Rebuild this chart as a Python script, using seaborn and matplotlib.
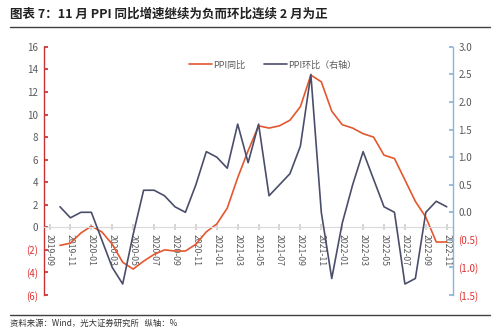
import numpy as np
import pandas as pd
import matplotlib
matplotlib.use("Agg")
import matplotlib.pyplot as plt
from matplotlib.lines import Line2D
import seaborn as sns

sns.set_theme(style="white")
plt.rcParams['font.family'] = ['Noto Sans CJK SC', 'DejaVu Sans']
plt.rcParams['axes.unicode_minus'] = False

months = ["2019-10", "2019-11", "2019-12", "2020-01", "2020-02", "2020-03", "2020-04",
          "2020-05", "2020-06", "2020-07", "2020-08", "2020-09", "2020-10", "2020-11",
          "2020-12", "2021-01", "2021-02", "2021-03", "2021-04", "2021-05", "2021-06",
          "2021-07", "2021-08", "2021-09", "2021-10", "2021-11", "2021-12", "2022-01",
          "2022-02", "2022-03", "2022-04", "2022-05", "2022-06", "2022-07", "2022-08",
          "2022-09", "2022-10", "2022-11"]
ppi_yoy = [-1.6, -1.4, -0.5, 0.1, -0.4, -1.5, -3.1, -3.7, -3.0, -2.4, -2.0, -2.1, -2.1,
           -1.5, -0.4, 0.3, 1.7, 4.4, 6.8, 9.0, 8.8, 9.0, 9.5, 10.7, 13.5, 12.9, 10.3,
           9.1, 8.8, 8.3, 8.0, 6.4, 6.1, 4.2, 2.3, 0.9, -1.3, -1.3]
ppi_mom = [0.1, -0.1, 0.0, 0.0, -0.5, -1.0, -1.3, -0.4, 0.4, 0.4, 0.3, 0.1, 0.0, 0.5,
           1.1, 1.0, 0.8, 1.6, 0.9, 1.6, 0.3, 0.5, 0.7, 1.2, 2.5, 0.0, -1.2, -0.2, 0.5,
           1.1, 0.6, 0.1, 0.0, -1.3, -1.2, 0.0, 0.2, 0.1]
tick_labels = ["2019-09", "2019-11", "2020-01", "2020-03", "2020-05", "2020-07", "2020-09",
               "2020-11", "2021-01", "2021-03", "2021-05", "2021-07", "2021-09", "2021-11",
               "2022-01", "2022-03", "2022-05", "2022-07", "2022-09", "2022-11"]
left_ticks = [-6, -4, -2, 0, 2, 4, 6, 8, 10, 12, 14, 16]
right_ticks = [-1.5, -1.0, -0.5, 0.0, 0.5, 1.0, 1.5, 2.0, 2.5, 3.0]

RED = "#E4572E"
GREY = "#4B4E6A"
TXT = "#595959"
NEG = "#E03030"

df = pd.DataFrame({"i": np.arange(len(months)), "yoy": ppi_yoy, "mom": ppi_mom})

fig = plt.figure(figsize=(5.0, 3.3), dpi=100)
ax = fig.add_axes([0.088, 0.106, 0.818, 0.752])
ax2 = ax.twinx()

sns.lineplot(data=df, x="i", y="yoy", ax=ax, color=RED, lw=1.2)
sns.lineplot(data=df, x="i", y="mom", ax=ax2, color=GREY, lw=1.2)

ax.set_xlim(-1.53, 37.6)
ax.set_ylim(-6, 16)
ax2.set_ylim(-1.5, 3.0)
ax.set_xlabel("")
ax.set_ylabel("")
ax2.set_ylabel("")

# x axis at zero
tick_pos = [months.index(l) if l in months else -1 for l in tick_labels]
ax.spines['bottom'].set_position(('data', 0))
ax.spines['bottom'].set_color("#D9D9D9")
ax.spines['bottom'].set_linewidth(0.8)
ax.set_xticks(tick_pos)
ax.set_xticklabels(tick_labels)
ax.tick_params(axis='x', direction='inout', length=4, color="#D0D0D0", pad=3,
               labelrotation=-90, labelsize=6.3, labelcolor=TXT, bottom=True)

# left axis
ax.set_yticks(left_ticks)
ax.set_yticklabels([f"({abs(v)})" if v < 0 else f"{v}" for v in left_ticks])
ax.tick_params(axis='y', direction='in', length=3, color="#C83232", pad=4, left=True,
               labelsize=7)
for lab, v in zip(ax.get_yticklabels(), left_ticks):
    lab.set_color(NEG if v < 0 else TXT)
ax.spines['left'].set_color("#C83232")
ax.spines['left'].set_linewidth(1.0)
ax.spines['top'].set_visible(False)
ax.spines['right'].set_visible(False)

# right axis
ax2.set_yticks(right_ticks)
ax2.set_yticklabels([f"({abs(v):.1f})" if v < 0 else f"{v:.1f}" for v in right_ticks])
ax2.tick_params(axis='y', direction='in', length=3, color="#8DB4D8", pad=4, right=True,
                labelsize=7)
for lab, v in zip(ax2.get_yticklabels(), right_ticks):
    lab.set_color(NEG if v < 0 else TXT)
for s in ['top', 'left', 'bottom']:
    ax2.spines[s].set_visible(False)
ax2.spines['right'].set_color("#8DB4D8")
ax2.spines['right'].set_linewidth(1.0)
ax.grid(False)
ax2.grid(False)

handles = [Line2D([], [], color=RED, lw=1.2), Line2D([], [], color=GREY, lw=1.2)]
fig.legend(handles, ["PPI同比", "PPI环比（右轴）"], loc="center",
           bbox_to_anchor=(0.545, 0.803), ncol=2, frameon=False, fontsize=6.5,
           handlelength=2.6, handletextpad=0.1, columnspacing=2.0, labelcolor=TXT)

fig.text(0.02, 0.958, "图表 7：11 月 PPI 同比增速继续为负而环比连续 2 月为正",
         fontsize=9, fontweight="bold", color="#222222", va="center", ha="left")
fig.add_artist(Line2D([0.02, 0.98], [0.918, 0.918], color="#404040", lw=1.0))
fig.add_artist(Line2D([0.02, 0.98], [0.045, 0.045], color="#404040", lw=1.0))
fig.text(0.02, 0.02, "资料来源：Wind，光大证券研究所   纵轴：%", fontsize=6,
         color="#333333", va="center", ha="left")

fig.savefig("out.png", dpi=100)
